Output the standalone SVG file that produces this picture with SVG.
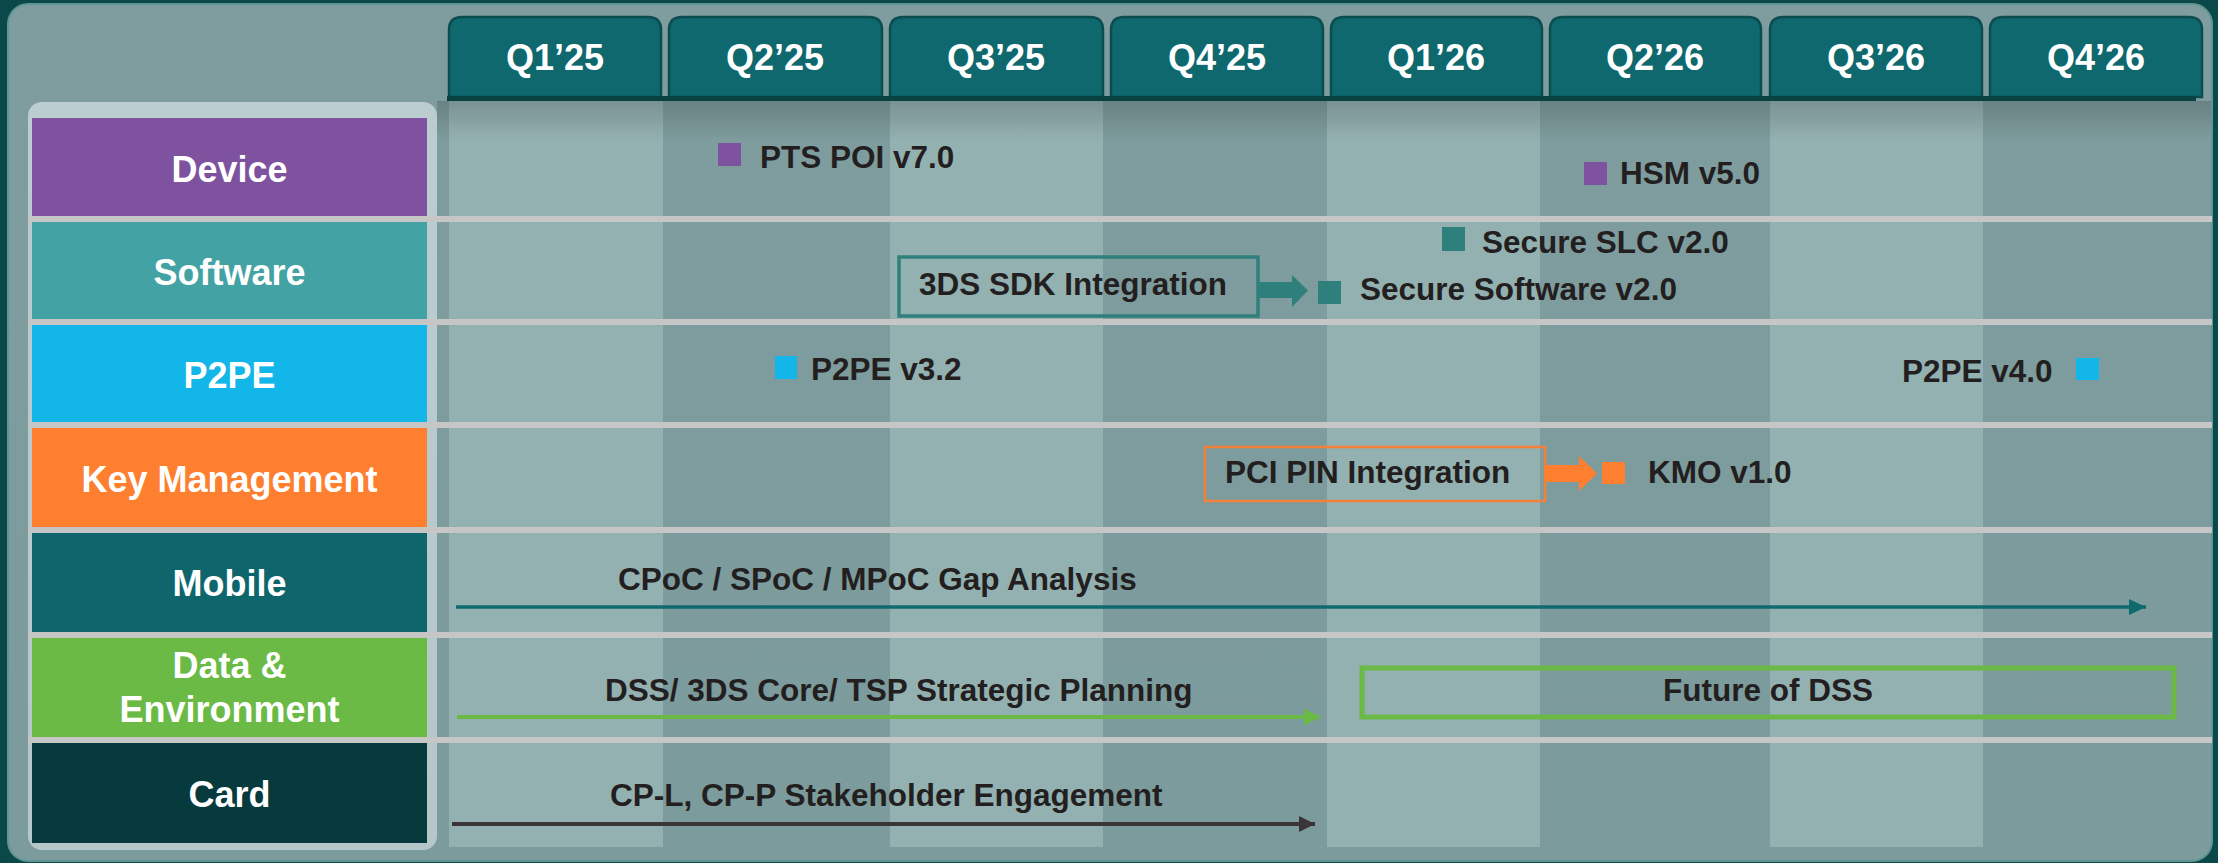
<svg xmlns="http://www.w3.org/2000/svg" width="2218" height="863" viewBox="0 0 2218 863">
<defs>
<style>
.tab{fill:#0e686e;stroke:#0a4c50;stroke-width:2.5}
.tabt{font-family:"Liberation Sans",Arial,sans-serif;font-weight:bold;font-size:36px;fill:#ffffff;text-anchor:middle}
.lbl{font-family:"Liberation Sans",Arial,sans-serif;font-weight:bold;font-size:36px;fill:#ffffff;text-anchor:middle}
.item{font-family:"Liberation Sans",Arial,sans-serif;font-weight:bold;font-size:31.5px;fill:#231f20}
.sep{fill:#c6c6c6}
.col{fill:#94b1b2}
</style>
<linearGradient id="panelG" x1="0" y1="0" x2="0" y2="1">
<stop offset="0" stop-color="#7f9d9e"/>
<stop offset="1" stop-color="#7c9b9c"/>
</linearGradient>
<linearGradient id="shadowG" x1="0" y1="0" x2="0" y2="1">
<stop offset="0" stop-color="#000000" stop-opacity="0.18"/>
<stop offset="1" stop-color="#000000" stop-opacity="0"/>
</linearGradient>
<linearGradient id="frameG" x1="0" y1="0" x2="0" y2="1">
<stop offset="0" stop-color="#bccdcf"/>
<stop offset="1" stop-color="#b6c7c9"/>
</linearGradient>
<marker id="ahTeal" markerWidth="10" markerHeight="10" refX="9" refY="5" orient="auto" markerUnits="userSpaceOnUse" viewBox="0 0 10 10">
<path d="M0,0 L10,5 L0,10 Z" fill="#0e6a6e" transform="scale(1)"/>
</marker>
<marker id="ahMobile" markerWidth="17" markerHeight="16" refX="17" refY="8" orient="auto" markerUnits="userSpaceOnUse">
<path d="M0,0 L17,8 L0,16 Z" fill="#0e6a6e"/>
</marker>
<marker id="ahGreen" markerWidth="16" markerHeight="17" refX="16" refY="8.5" orient="auto" markerUnits="userSpaceOnUse">
<path d="M0,0 L16,8.5 L0,17 Z" fill="#6aba45"/>
</marker>
<marker id="ahDark" markerWidth="16" markerHeight="16" refX="16" refY="8" orient="auto" markerUnits="userSpaceOnUse">
<path d="M0,0 L16,8 L0,16 Z" fill="#3a3537"/>
</marker>
</defs>

<!-- background -->
<rect x="0" y="0" width="2218" height="863" fill="#0b4849"/>
<rect x="8" y="4" width="2204" height="857" rx="20" fill="url(#panelG)" stroke="#5f9594" stroke-width="2"/>

<!-- light columns -->
<rect class="col" x="449" y="101" width="214" height="746"/>
<rect class="col" x="890" y="101" width="213" height="746"/>
<rect class="col" x="1327" y="101" width="213" height="746"/>
<rect class="col" x="1770" y="101" width="213" height="746"/>
<rect x="437" y="101" width="1774" height="40" fill="url(#shadowG)"/>

<!-- header tabs -->
<g id="header">
<path class="tab" d="M449,97 V30 Q449,17 462,17 H648 Q661,17 661,30 V97 Z"/>
<path class="tab" d="M669,97 V30 Q669,17 682,17 H869 Q882,17 882,30 V97 Z"/>
<path class="tab" d="M890,97 V30 Q890,17 903,17 H1090 Q1103,17 1103,30 V97 Z"/>
<path class="tab" d="M1111,97 V30 Q1111,17 1124,17 H1310 Q1323,17 1323,30 V97 Z"/>
<path class="tab" d="M1331,97 V30 Q1331,17 1344,17 H1529 Q1542,17 1542,30 V97 Z"/>
<path class="tab" d="M1550,97 V30 Q1550,17 1563,17 H1748 Q1761,17 1761,30 V97 Z"/>
<path class="tab" d="M1770,97 V30 Q1770,17 1783,17 H1969 Q1982,17 1982,30 V97 Z"/>
<path class="tab" d="M1990,97 V30 Q1990,17 2003,17 H2189 Q2202,17 2202,30 V97 Z"/>
<rect x="447" y="96" width="1749" height="5" fill="#0a4244"/>
<text class="tabt" x="555" y="70">Q1’25</text>
<text class="tabt" x="775" y="70">Q2’25</text>
<text class="tabt" x="996" y="70">Q3’25</text>
<text class="tabt" x="1217" y="70">Q4’25</text>
<text class="tabt" x="1436" y="70">Q1’26</text>
<text class="tabt" x="1655" y="70">Q2’26</text>
<text class="tabt" x="1876" y="70">Q3’26</text>
<text class="tabt" x="2096" y="70">Q4’26</text>
</g>

<!-- left frame -->
<rect x="28" y="102" width="409" height="748" rx="14" fill="url(#frameG)"/>

<!-- row separators -->
<g id="separators">
<rect class="sep" x="28" y="216" width="2184" height="6"/>
<rect class="sep" x="28" y="319" width="2184" height="6"/>
<rect class="sep" x="28" y="422" width="2184" height="6"/>
<rect class="sep" x="28" y="527" width="2184" height="6"/>
<rect class="sep" x="28" y="632" width="2184" height="6"/>
<rect class="sep" x="28" y="737" width="2184" height="6"/>
</g>

<!-- row labels -->
<g id="row-device"><rect x="32" y="118" width="395" height="98" fill="#7e529e"/><text class="lbl" x="229.5" y="182">Device</text></g>
<g id="row-software"><rect x="32" y="222" width="395" height="97" fill="#43a3a4"/><text class="lbl" x="229.5" y="285">Software</text></g>
<g id="row-p2pe"><rect x="32" y="325" width="395" height="97" fill="#13b6e8"/><text class="lbl" x="229.5" y="388">P2PE</text></g>
<g id="row-key"><rect x="32" y="428" width="395" height="99" fill="#fe7f30"/><text class="lbl" x="229.5" y="492">Key Management</text></g>
<g id="row-mobile"><rect x="32" y="533" width="395" height="99" fill="#0e666c"/><text class="lbl" x="229.5" y="596">Mobile</text></g>
<g id="row-data"><rect x="32" y="638" width="395" height="99" fill="#6aba45"/><text class="lbl" x="229.5" y="678">Data &amp;</text><text class="lbl" x="229.5" y="722">Environment</text></g>
<g id="row-card"><rect x="32" y="743" width="395" height="100" fill="#073a3c"/><text class="lbl" x="229.5" y="807">Card</text></g>

<!-- milestones -->
<g id="pts-poi"><rect x="718" y="143" width="23" height="23" fill="#7e529e"/><text class="item" x="760" y="168">PTS POI v7.0</text></g>
<g id="hsm"><rect x="1584" y="162" width="23" height="23" fill="#7e529e"/><text class="item" x="1620" y="184">HSM v5.0</text></g>
<g id="secure-slc"><rect x="1442" y="227" width="23" height="24" fill="#2f7f7c"/><text class="item" x="1482" y="253">Secure SLC v2.0</text></g>
<g id="sdk3ds"><rect x="899" y="257" width="359" height="59" fill="none" stroke="#2f7f7c" stroke-width="3.5"/><text class="item" x="919" y="295">3DS SDK Integration</text></g>
<g id="secure-sw"><rect x="1318" y="281" width="23" height="23" fill="#2f7f7c"/><text class="item" x="1360" y="300">Secure Software v2.0</text></g>
<g id="p2pe32"><rect x="775" y="356" width="22" height="23" fill="#13b6e8"/><text class="item" x="811" y="380">P2PE v3.2</text></g>
<g id="p2pe40"><text class="item" x="1902" y="382">P2PE v4.0</text><rect x="2076" y="358" width="23" height="22" fill="#13b6e8"/></g>
<g id="pci-pin"><rect x="1205" y="447" width="340" height="54" fill="none" stroke="#f4813a" stroke-width="2.5"/><text class="item" x="1225" y="483">PCI PIN Integration</text></g>
<g id="kmo"><rect x="1602" y="462" width="23" height="22" fill="#fe7f30"/><text class="item" x="1648" y="483">KMO v1.0</text></g>
<g id="gap-analysis"><text class="item" x="618" y="590">CPoC / SPoC / MPoC Gap Analysis</text></g>
<g id="dss-planning"><text class="item" x="605" y="701">DSS/ 3DS Core/ TSP Strategic Planning</text></g>
<g id="future-dss"><rect x="1362" y="668" width="812" height="49" fill="none" stroke="#6aba45" stroke-width="5"/><text class="item" x="1768" y="701" text-anchor="middle">Future of DSS</text></g>
<g id="cp-engagement"><text class="item" x="610" y="806">CP-L, CP-P Stakeholder Engagement</text></g>

<!-- connectors -->
<g id="connectors">
<path d="M1259,282 H1292 V275 L1308,290.5 L1292,307 V298 H1259 Z" fill="#2f7f7c"/>
<path d="M1546,465 H1579 V456 L1597,473.5 L1579,491 V482 H1546 Z" fill="#fe7f30"/>
<line x1="456" y1="607" x2="2146" y2="607" stroke="#0e6a6e" stroke-width="3.5" marker-end="url(#ahMobile)"/>
<line x1="457" y1="717" x2="1320" y2="717" stroke="#6aba45" stroke-width="4" marker-end="url(#ahGreen)"/>
<line x1="452" y1="824" x2="1315" y2="824" stroke="#3a3537" stroke-width="4" marker-end="url(#ahDark)"/>
</g>
</svg>
